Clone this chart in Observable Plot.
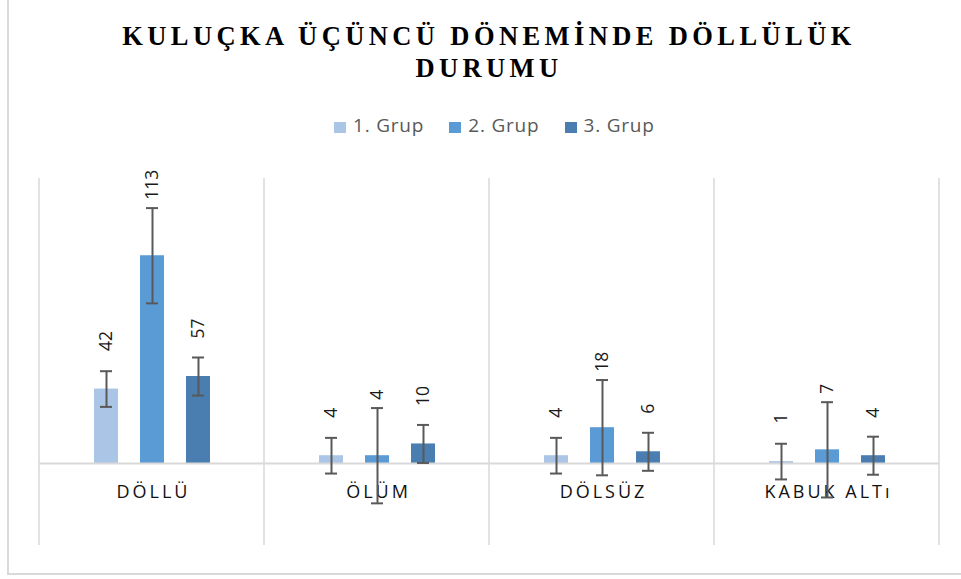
<!DOCTYPE html>
<html>
<head>
<meta charset="utf-8">
<script src="https://cdn.jsdelivr.net/npm/d3@7"></script>
<script src="https://cdn.jsdelivr.net/npm/@observablehq/plot@0.6"></script>
<style>
  html, body { margin: 0; padding: 0; background: #fff; }
  #wrap { position: relative; width: 961px; height: 579px; overflow: hidden; background: #fff; }
  #border { position: absolute; left: 7px; top: -2px; width: 960px; height: 575px;
            border-left: 2px solid #d9d9d9; border-bottom: 2px solid #d9d9d9; box-sizing: content-box; }
  #title { position: absolute; left: 38px; width: 902px; top: 20px; text-align: center;
           font-family: "Liberation Serif", "Times New Roman", serif; font-weight: bold;
           font-size: 26.5px; line-height: 32px; letter-spacing: 4.4px; color: #000; }
  #legend { position: absolute; left: 334px; top: 115px; display: flex; align-items: center;
            font-family: "Open Sans", sans-serif; font-size: 19px; line-height: 20px; color: #595959; letter-spacing: 0.8px; }
  .item { display: flex; align-items: center; margin-right: 25px; }
  .sw { width: 12px; height: 11px; margin-right: 7px; margin-top: 4px; }
  #chart { position: absolute; left: 0; top: 150px; }
</style>
</head>
<body>
<div id="wrap">
  <div id="border"></div>
  <div id="title">KULUÇKA ÜÇÜNCÜ DÖNEMİNDE DÖLLÜLÜK<br>DURUMU</div>
  <div id="legend"></div>
  <div id="chart"></div>
</div>
<script>
// ---- data ----
const categories = ["DÖLLÜ", "ÖLÜM", "DÖLSÜZ", "KABUK ALTı"];
const groups = ["1. Grup", "2. Grup", "3. Grup"];
// bar heights as drawn in the picture
const grup1 = [38, 4, 4, 1];
const grup2 = [106, 4, 18.3, 7];
const grup3 = [44.4, 10, 6, 4];
// data labels as printed
const label1 = [42, 4, 4, 1];
const label2 = [113, 4, 18, 7];
const label3 = [57, 10, 6, 4];
// error bar amount per series
const errors = [9.1, 24.3, 9.7];
const colors = ["#abc5e6", "#5b9bd5", "#4a7eb0"];
const yDomain = [-41.8, 145.4];

const series = [grup1, grup2, grup3];
const labels = [label1, label2, label3];
const rows = [];
groups.forEach((g, gi) => {
  categories.forEach((c, ci) => {
    rows.push({category: c, group: g, gi, value: series[gi][ci], label: labels[gi][ci], err: errors[gi]});
  });
});

// legend
const legend = document.getElementById("legend");
groups.forEach((g, i) => {
  const it = document.createElement("div");
  it.className = "item";
  const sw = document.createElement("div");
  sw.className = "sw";
  sw.style.background = colors[i];
  const tx = document.createElement("span");
  tx.textContent = g;
  it.appendChild(sw); it.appendChild(tx);
  legend.appendChild(it);
});

const labelOffsets = [38, 56, 38];
const F = "Open Sans, sans-serif";

const chart = Plot.plot({
  width: 961,
  height: 410,
  marginTop: 28,
  marginBottom: 15,
  marginLeft: 38,
  marginRight: 21,
  fx: {domain: categories, padding: 0, axis: null},
  x: {domain: groups, paddingInner: 0.484, paddingOuter: 1.167, axis: null},
  y: {domain: yDomain, axis: null},
  color: {domain: groups, range: colors},
  style: {fontFamily: F, background: "transparent"},
  marks: [
    Plot.barY(rows, {fx: "category", x: "group", y: "value", fill: "group"}),
    Plot.ruleY([0], {stroke: "#d9d9d9", strokeWidth: 2}),
    Plot.text(categories, {fx: d => d, y: () => 0, text: d => d, dy: 29, dx: 1.5,
      fontSize: 18, fill: "#111", frameAnchor: "middle"}),
    ...groups.map((g, gi) => Plot.text(rows.filter(r => r.gi === gi), {
      fx: "category", x: "group", y: "value", text: d => String(d.label),
      rotate: -90, textAnchor: "start", dy: -labelOffsets[gi], fontSize: 17.5, fill: "#1a1a1a"
    })),
    Plot.ruleX(rows, {fx: "category", x: "group", y1: d => d.value - d.err, y2: d => d.value + d.err,
      stroke: "#595959", strokeWidth: 2}),
    Plot.tickY(rows, {fx: "category", x: "group", y: d => d.value + d.err, stroke: "#595959",
      strokeWidth: 2, insetLeft: 6, insetRight: 6}),
    Plot.tickY(rows, {fx: "category", x: "group", y: d => d.value - d.err, stroke: "#595959",
      strokeWidth: 2, insetLeft: 6, insetRight: 6})
  ]
});

document.getElementById("chart").appendChild(chart);

// letter-spaced category labels
d3.select(chart).selectAll("text").filter(function() {
  return categories.includes(this.textContent);
}).attr("letter-spacing", "3px");

// vertical separators at category boundaries (from the fx band scale)
const fx = chart.scale("fx");
const ys = chart.scale("y");
const yTop = Math.min(...ys.range), yBot = Math.max(...ys.range);
const edges = categories.map(c => fx.apply(c));
edges.push(fx.apply(categories[categories.length - 1]) + fx.bandwidth);
d3.select(chart).insert("g", "g")
  .selectAll("line").data(edges).join("line")
  .attr("x1", d => d).attr("x2", d => d)
  .attr("y1", yTop).attr("y2", yBot)
  .attr("stroke", "#d9d9d9").attr("stroke-width", 1.5);
</script>
</body>
</html>
